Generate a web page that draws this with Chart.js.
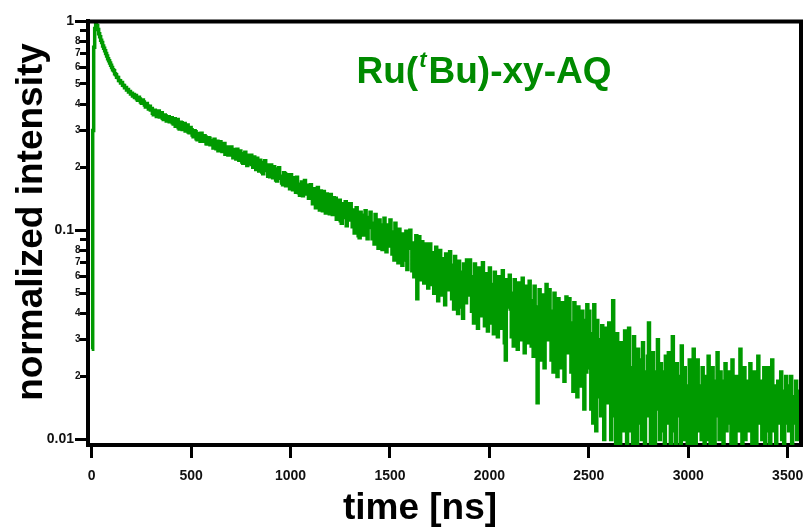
<!DOCTYPE html>
<html>
<head>
<meta charset="utf-8">
<script src="https://cdn.jsdelivr.net/npm/chart.js@4.4.0/dist/chart.umd.min.js"></script>
<style>
  html, body { margin: 0; padding: 0; background: #fff; }
  #wrap { width: 804px; height: 529px; }
</style>
</head>
<body>
<div id="wrap"><canvas id="decayChart" width="804" height="529"></canvas></div>
<script>
// Emission decay trace, one sample every 5 ns (100 ns per row)
const TIME_STEP = 5;
const intensity = [
    0.027, 0.3, 0.75, 0.92, 0.98, 0.95, 0.91, 0.87, 0.84, 0.81, 0.79, 0.76, 0.74, 0.72, 0.7, 0.68, 0.66, 0.645, 0.63, 0.615,
    0.6, 0.585, 0.578, 0.56, 0.553, 0.538, 0.537, 0.52, 0.518, 0.506, 0.508, 0.493, 0.492, 0.48, 0.481, 0.468, 0.471, 0.458, 0.46, 0.448,
    0.452, 0.438, 0.445, 0.431, 0.44, 0.425, 0.418, 0.432, 0.424, 0.41, 0.405, 0.419, 0.41, 0.397, 0.388, 0.403, 0.392, 0.38, 0.391, 0.376,
    0.382, 0.362, 0.356, 0.375, 0.368, 0.35, 0.362, 0.371, 0.348, 0.356, 0.364, 0.343, 0.338, 0.355, 0.352, 0.333, 0.343, 0.349, 0.33, 0.341,
    0.345, 0.326, 0.322, 0.341, 0.314, 0.333, 0.338, 0.309, 0.305, 0.328, 0.326, 0.303, 0.312, 0.324, 0.298, 0.306, 0.318, 0.295, 0.292, 0.31,
    0.302, 0.285, 0.28, 0.299, 0.296, 0.274, 0.271, 0.29, 0.285, 0.266, 0.291, 0.279, 0.266, 0.283, 0.279, 0.259, 0.258, 0.277, 0.275, 0.256,
    0.268, 0.257, 0.247, 0.272, 0.252, 0.245, 0.266, 0.24, 0.251, 0.265, 0.244, 0.238, 0.256, 0.26, 0.231, 0.243, 0.25, 0.229, 0.246, 0.238,
    0.25, 0.229, 0.222, 0.243, 0.238, 0.219, 0.244, 0.226, 0.216, 0.239, 0.232, 0.212, 0.209, 0.23, 0.236, 0.214, 0.204, 0.228, 0.226, 0.207,
    0.228, 0.206, 0.2, 0.224, 0.214, 0.195, 0.221, 0.203, 0.192, 0.216, 0.209, 0.19, 0.186, 0.211, 0.215, 0.193, 0.199, 0.181, 0.205, 0.18,
    0.205, 0.186, 0.178, 0.201, 0.196, 0.174, 0.172, 0.193, 0.199, 0.177, 0.181, 0.168, 0.165, 0.188, 0.186, 0.163, 0.168, 0.184, 0.178, 0.158,
    0.184, 0.163, 0.156, 0.178, 0.172, 0.152, 0.179, 0.166, 0.151, 0.147, 0.166, 0.17, 0.146, 0.158, 0.173, 0.149, 0.155, 0.164, 0.142, 0.162,
    0.165, 0.145, 0.134, 0.158, 0.152, 0.128, 0.131, 0.16, 0.142, 0.125, 0.154, 0.148, 0.124, 0.153, 0.131, 0.121, 0.149, 0.14, 0.146, 0.12,
    0.148, 0.126, 0.119, 0.143, 0.136, 0.142, 0.113, 0.122, 0.13, 0.139, 0.111, 0.108, 0.134, 0.127, 0.115, 0.137, 0.105, 0.121, 0.134, 0.112,
    0.134, 0.117, 0.104, 0.125, 0.097, 0.112, 0.128, 0.111, 0.094, 0.092, 0.122, 0.116, 0.105, 0.095, 0.118, 0.124, 0.099, 0.091, 0.115, 0.106,
    0.122, 0.103, 0.091, 0.108, 0.086, 0.119, 0.11, 0.098, 0.082, 0.112, 0.106, 0.09, 0.081, 0.104, 0.114, 0.087, 0.079, 0.099, 0.106, 0.084,
    0.112, 0.094, 0.077, 0.098, 0.072, 0.108, 0.098, 0.085, 0.07, 0.101, 0.095, 0.079, 0.068, 0.096, 0.088, 0.072, 0.099, 0.065, 0.082, 0.094,
    0.1, 0.083, 0.064, 0.087, 0.06, 0.079, 0.094, 0.047, 0.072, 0.093, 0.071, 0.058, 0.088, 0.079, 0.056, 0.066, 0.086, 0.061, 0.053, 0.08,
    0.086, 0.069, 0.055, 0.078, 0.05, 0.064, 0.083, 0.062, 0.046, 0.072, 0.08, 0.057, 0.049, 0.073, 0.066, 0.044, 0.077, 0.058, 0.052, 0.071,
    0.079, 0.06, 0.047, 0.068, 0.042, 0.075, 0.055, 0.064, 0.04, 0.071, 0.05, 0.063, 0.043, 0.038, 0.069, 0.058, 0.045, 0.072, 0.049, 0.062,
    0.072, 0.053, 0.041, 0.06, 0.036, 0.069, 0.048, 0.058, 0.034, 0.066, 0.045, 0.057, 0.039, 0.07, 0.051, 0.035, 0.062, 0.044, 0.033, 0.059,
    0.066, 0.046, 0.036, 0.055, 0.032, 0.063, 0.044, 0.052, 0.031, 0.06, 0.041, 0.05, 0.034, 0.064, 0.047, 0.029, 0.024, 0.058, 0.043, 0.052,
    0.061, 0.042, 0.031, 0.05, 0.028, 0.058, 0.039, 0.047, 0.027, 0.056, 0.037, 0.045, 0.03, 0.059, 0.035, 0.026, 0.054, 0.041, 0.047, 0.029,
    0.057, 0.038, 0.028, 0.046, 0.025, 0.054, 0.035, 0.043, 0.015, 0.036, 0.052, 0.033, 0.024, 0.049, 0.04, 0.022, 0.043, 0.055, 0.03, 0.038,
    0.052, 0.034, 0.024, 0.041, 0.021, 0.05, 0.032, 0.039, 0.02, 0.047, 0.028, 0.038, 0.022, 0.045, 0.031, 0.019, 0.04, 0.048, 0.026, 0.035,
    0.047, 0.03, 0.021, 0.036, 0.017, 0.045, 0.027, 0.034, 0.016, 0.043, 0.023, 0.031, 0.018, 0.041, 0.026, 0.014, 0.037, 0.021, 0.044, 0.028,
    0.041, 0.022, 0.014, 0.032, 0.012, 0.044, 0.025, 0.011, 0.037, 0.019, 0.016, 0.03, 0.013, 0.035, 0.021, 0.01, 0.028, 0.034, 0.015, 0.024,
    0.036, 0.017, 0.01, 0.027, 0.046, 0.02, 0.013, 0.009, 0.032, 0.024, 0.019, 0.008, 0.029, 0.014, 0.022, 0.011, 0.033, 0.018, 0.009, 0.026,
    0.034, 0.016, 0.011, 0.022, 0.008, 0.031, 0.02, 0.015, 0.009, 0.027, 0.018, 0.012, 0.024, 0.01, 0.029, 0.017, 0.008, 0.021, 0.013, 0.025,
    0.036, 0.015, 0.009, 0.019, 0.026, 0.012, 0.008, 0.021, 0.014, 0.03, 0.018, 0.01, 0.023, 0.015, 0.021, 0.011, 0.009, 0.025, 0.016, 0.012,
    0.026, 0.014, 0.008, 0.017, 0.031, 0.019, 0.011, 0.009, 0.023, 0.015, 0.013, 0.02, 0.008, 0.028, 0.016, 0.01, 0.022, 0.012, 0.018, 0.009,
    0.012, 0.024, 0.02, 0.009, 0.016, 0.027, 0.014, 0.008, 0.019, 0.024, 0.011, 0.015, 0.018, 0.01, 0.022, 0.013, 0.009, 0.02, 0.016, 0.01,
    0.025, 0.014, 0.009, 0.016, 0.022, 0.012, 0.008, 0.019, 0.013, 0.026, 0.015, 0.01, 0.021, 0.012, 0.019, 0.009, 0.017, 0.023, 0.011, 0.014,
    0.021, 0.013, 0.012, 0.008, 0.024, 0.017, 0.015, 0.009, 0.02, 0.014, 0.011, 0.018, 0.027, 0.012, 0.008, 0.016, 0.022, 0.01, 0.019, 0.013,
    0.017, 0.011, 0.023, 0.015, 0.009, 0.014, 0.021, 0.012, 0.008, 0.018, 0.025, 0.013, 0.012, 0.019, 0.01, 0.016, 0.022, 0.009, 0.015, 0.011,
    0.022, 0.014, 0.009, 0.016, 0.024, 0.012, 0.011, 0.018, 0.008, 0.015, 0.019, 0.012, 0.013, 0.021, 0.01, 0.017, 0.009, 0.014, 0.02, 0.012,
    0.018, 0.011, 0.015, 0.02, 0.009, 0.013, 0.016, 0.012, 0.019, 0.01, 0.014, 0.017, 0.011, 0.016
];

const xTicks = [0, 500, 1000, 1500, 2000, 2500, 3000, 3500];
const yMajorTicks = [0.01, 0.1, 1];
const yMajorLabels = ['0.01', '0.1', '1'];
const yMinorTicks = [0.02, 0.03, 0.04, 0.05, 0.06, 0.07, 0.08, 0.09,
                     0.2, 0.3, 0.4, 0.5, 0.6, 0.7, 0.8, 0.9];
const yMinorLabels = ['2', '3', '4', '5', '6', '7', '8', '',
                      '2', '3', '4', '5', '6', '7', '8', ''];

const seriesTitle = { head: 'Ru(', sup: 't', tail: 'Bu)-xy-AQ' };
const xTitle = 'time [ns]';
const yTitle = 'normalized intensity';

const LINE_COLOR = '#009a00';
const TITLE_COLOR = '#008a00';
const FONT = 'Arial, "Liberation Sans", sans-serif';

const points = intensity.map((v, i) => ({ x: i * TIME_STEP, y: v }));

// box lines on top/right plus the texts that sit outside the axes
const frameAndLabels = {
    id: 'frameAndLabels',
    afterDraw(chart) {
        const ctx = chart.ctx;
        const area = chart.chartArea;
        ctx.save();
        ctx.strokeStyle = '#000';
        ctx.lineWidth = 4;
        ctx.beginPath();
        ctx.moveTo(area.left - 2, area.top + 0.5);
        ctx.lineTo(area.right, area.top + 0.5);
        ctx.lineTo(area.right, area.bottom + 2);
        ctx.stroke();

        // axis titles
        ctx.fillStyle = '#000';
        ctx.font = 'bold 37px ' + FONT;
        ctx.textAlign = 'center';
        ctx.textBaseline = 'alphabetic';
        ctx.fillText(xTitle, 420, 519);

        ctx.save();
        ctx.translate(42, 222);
        ctx.rotate(-Math.PI / 2);
        ctx.fillText(yTitle, 0, 0);
        ctx.restore();

        // series label with italic superscript t
        ctx.fillStyle = TITLE_COLOR;
        ctx.textAlign = 'left';
        const bigFont = 'bold 37px ' + FONT;
        const supFont = 'italic bold 22px ' + FONT;
        ctx.font = bigFont;
        const wHead = ctx.measureText(seriesTitle.head).width;
        const wTail = ctx.measureText(seriesTitle.tail).width;
        ctx.font = supFont;
        const wSup = ctx.measureText(seriesTitle.sup).width + 3;
        let x = 484 - (wHead + wSup + wTail) / 2;
        ctx.font = bigFont;
        ctx.fillText(seriesTitle.head, x, 83);
        x += wHead;
        ctx.font = supFont;
        ctx.fillText(seriesTitle.sup, x + 1, 67);
        x += wSup;
        ctx.font = bigFont;
        ctx.fillText(seriesTitle.tail, x, 83);
        ctx.restore();
    }
};

const ctx = document.getElementById('decayChart').getContext('2d');
new Chart(ctx, {
    type: 'line',
    data: {
        datasets: [{
            data: points,
            borderColor: LINE_COLOR,
            borderWidth: 3.5,
            pointRadius: 0,
            stepped: true,
            fill: false,
            yAxisID: 'y'
        }]
    },
    options: {
        responsive: false,
        animation: false,
        devicePixelRatio: 1,
        layout: { padding: { top: 21, right: 3, left: 0, bottom: 0 } },
        plugins: {
            legend: { display: false },
            tooltip: { enabled: false }
        },
        scales: {
            x: {
                type: 'linear',
                position: 'bottom',
                min: -18.6,
                max: 3567,
                afterBuildTicks: s => { s.ticks = xTicks.map(v => ({ value: v })); },
                afterFit: s => { s.height = 84; s.paddingLeft = 0; s.paddingRight = 0; },
                grid: { drawOnChartArea: false, tickLength: 13, tickWidth: 3, tickColor: '#000' },
                border: { display: true, width: 4, color: '#000' },
                ticks: {
                    autoSkip: false,
                    maxRotation: 0,
                    padding: 10,
                    color: '#111',
                    font: { family: FONT, size: 14, weight: 'bold' },
                    callback: v => String(v)
                }
            },
            y: {
                type: 'logarithmic',
                position: 'left',
                weight: 2,
                min: 0.00941,
                max: 1,
                afterBuildTicks: s => { s.ticks = yMajorTicks.map(v => ({ value: v })); },
                afterFit: s => { s.width = 88; s.paddingTop = 0; s.paddingBottom = 0; },
                grid: { drawOnChartArea: false, tickLength: 13, tickWidth: 3, tickColor: '#000' },
                border: { display: true, width: 4, color: '#000' },
                ticks: {
                    autoSkip: false,
                    padding: 1,
                    color: '#111',
                    font: { family: FONT, size: 14, weight: 'bold' },
                    callback: (v, i) => yMajorLabels[i]
                }
            },
            y2: {
                type: 'logarithmic',
                position: 'left',
                weight: 1,
                min: 0.00941,
                max: 1,
                afterBuildTicks: s => { s.ticks = yMinorTicks.map(v => ({ value: v })); },
                afterFit: s => { s.width = 0; s.paddingTop = 0; s.paddingBottom = 0; },
                grid: { drawOnChartArea: false, tickLength: 8, tickWidth: 3, tickColor: '#000' },
                border: { display: false },
                ticks: {
                    autoSkip: false,
                    mirror: true,
                    crossAlign: 'near',
                    padding: -13,
                    color: '#111',
                    font: { family: FONT, size: 10, weight: 'bold' },
                    callback: (v, i) => yMinorLabels[i]
                }
            }
        }
    },
    plugins: [frameAndLabels]
});
</script>
</body>
</html>
